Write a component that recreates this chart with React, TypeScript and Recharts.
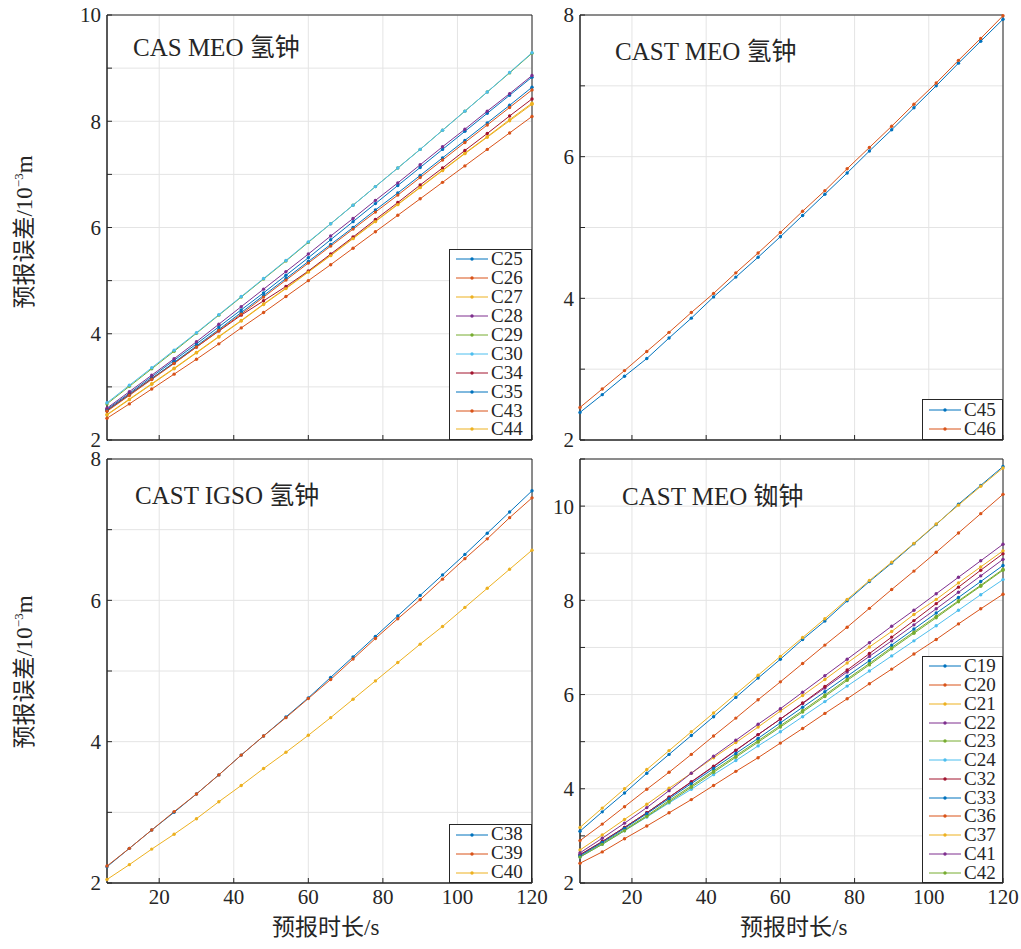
import React from "react";
import {
  LineChart,
  Line,
  XAxis,
  YAxis,
  CartesianGrid,
  Legend,
  ReferenceArea,
} from "recharts";

// forecast horizon (s), one point every 6 s
const times = [6, 12, 18, 24, 30, 36, 42, 48, 54, 60, 66, 72, 78, 84, 90, 96, 102, 108, 114, 120];
const xTicks = [20, 40, 60, 80, 100, 120];

// CAS MEO 氢钟
const c25 = [2.58, 2.88, 3.19, 3.5, 3.81, 4.13, 4.45, 4.77, 5.1, 5.43, 5.77, 6.11, 6.45, 6.79, 7.13, 7.47, 7.81, 8.15, 8.49, 8.83];
const c26 = [2.41, 2.68, 2.96, 3.24, 3.52, 3.81, 4.11, 4.4, 4.7, 5.0, 5.3, 5.61, 5.92, 6.23, 6.54, 6.85, 7.16, 7.47, 7.78, 8.09];
const c27 = [2.48, 2.77, 3.06, 3.35, 3.65, 3.95, 4.25, 4.56, 4.86, 5.17, 5.48, 5.8, 6.12, 6.44, 6.76, 7.08, 7.4, 7.71, 8.03, 8.34];
const c28 = [2.6, 2.91, 3.22, 3.53, 3.85, 4.18, 4.51, 4.84, 5.17, 5.5, 5.84, 6.17, 6.51, 6.84, 7.18, 7.52, 7.85, 8.19, 8.52, 8.86];
const c29 = [2.68, 3.01, 3.34, 3.67, 4.01, 4.35, 4.69, 5.03, 5.37, 5.72, 6.07, 6.42, 6.77, 7.12, 7.47, 7.83, 8.19, 8.55, 8.91, 9.28];
const c30 = [2.7, 3.03, 3.36, 3.69, 4.02, 4.36, 4.7, 5.04, 5.38, 5.73, 6.07, 6.42, 6.77, 7.12, 7.47, 7.83, 8.19, 8.55, 8.92, 9.29];
const c34 = [2.56, 2.86, 3.16, 3.45, 3.75, 4.05, 4.35, 4.62, 4.89, 5.18, 5.5, 5.82, 6.15, 6.47, 6.8, 7.12, 7.45, 7.77, 8.1, 8.42];
const c35 = [2.55, 2.85, 3.15, 3.46, 3.77, 4.08, 4.4, 4.72, 5.04, 5.36, 5.68, 6.0, 6.33, 6.65, 6.98, 7.31, 7.64, 7.97, 8.3, 8.64];
const c43 = [2.54, 2.84, 3.14, 3.44, 3.75, 4.06, 4.37, 4.69, 5.01, 5.33, 5.65, 5.97, 6.29, 6.61, 6.94, 7.27, 7.6, 7.93, 8.26, 8.59];
const c44 = [2.47, 2.76, 3.05, 3.34, 3.64, 3.94, 4.24, 4.55, 4.85, 5.16, 5.47, 5.79, 6.11, 6.43, 6.75, 7.07, 7.39, 7.7, 8.01, 8.32];

// CAST MEO 氢钟
const c45 = [2.39, 2.64, 2.9, 3.15, 3.44, 3.72, 4.02, 4.3, 4.58, 4.87, 5.17, 5.47, 5.77, 6.08, 6.38, 6.69, 7.0, 7.32, 7.63, 7.94];
const c46 = [2.46, 2.72, 2.98, 3.25, 3.52, 3.8, 4.07, 4.36, 4.64, 4.93, 5.23, 5.52, 5.83, 6.13, 6.43, 6.74, 7.04, 7.36, 7.67, 7.99];

// CAST IGSO 氢钟
const c38 = [2.23, 2.49, 2.75, 3.0, 3.26, 3.53, 3.81, 4.08, 4.35, 4.62, 4.91, 5.2, 5.49, 5.78, 6.07, 6.36, 6.65, 6.95, 7.25, 7.55];
const c39 = [2.24, 2.49, 2.75, 3.01, 3.26, 3.53, 3.81, 4.08, 4.34, 4.61, 4.88, 5.17, 5.46, 5.74, 6.01, 6.3, 6.59, 6.87, 7.17, 7.45];
const c40 = [2.05, 2.26, 2.48, 2.69, 2.91, 3.15, 3.38, 3.62, 3.85, 4.09, 4.34, 4.6, 4.86, 5.12, 5.38, 5.63, 5.9, 6.17, 6.44, 6.71];

// CAST MEO 铷钟
const c19 = [3.1, 3.51, 3.91, 4.33, 4.73, 5.13, 5.53, 5.94, 6.35, 6.75, 7.17, 7.56, 7.99, 8.4, 8.79, 9.2, 9.61, 10.04, 10.44, 10.84];
const c20 = [2.9, 3.25, 3.62, 3.99, 4.35, 4.73, 5.12, 5.5, 5.89, 6.27, 6.66, 7.05, 7.43, 7.83, 8.23, 8.62, 9.02, 9.43, 9.84, 10.25];
const c21 = [3.18, 3.59, 4.0, 4.41, 4.81, 5.21, 5.61, 6.01, 6.41, 6.81, 7.21, 7.61, 8.02, 8.42, 8.81, 9.21, 9.62, 10.02, 10.42, 10.81];
const c22 = [2.6, 2.88, 3.18, 3.49, 3.82, 4.14, 4.47, 4.81, 5.15, 5.48, 5.81, 6.14, 6.48, 6.81, 7.14, 7.48, 7.82, 8.17, 8.52, 8.87];
const c23 = [2.56, 2.84, 3.13, 3.43, 3.75, 4.06, 4.38, 4.7, 5.02, 5.34, 5.66, 5.99, 6.33, 6.66, 7.0, 7.33, 7.66, 7.99, 8.32, 8.66];
const c24 = [2.55, 2.82, 3.11, 3.4, 3.7, 3.99, 4.3, 4.6, 4.91, 5.21, 5.53, 5.85, 6.18, 6.5, 6.82, 7.14, 7.46, 7.79, 8.12, 8.44];
const c32 = [2.6, 2.88, 3.18, 3.49, 3.82, 4.15, 4.48, 4.82, 5.15, 5.48, 5.82, 6.17, 6.52, 6.87, 7.22, 7.57, 7.93, 8.28, 8.64, 8.99];
const c33 = [2.58, 2.86, 3.16, 3.47, 3.79, 4.11, 4.43, 4.75, 5.07, 5.4, 5.73, 6.06, 6.39, 6.72, 7.05, 7.39, 7.73, 8.06, 8.4, 8.74];
const c36 = [2.42, 2.66, 2.94, 3.21, 3.49, 3.77, 4.07, 4.37, 4.66, 4.97, 5.28, 5.6, 5.91, 6.23, 6.54, 6.86, 7.17, 7.5, 7.82, 8.13];
const c37 = [2.7, 3.02, 3.35, 3.67, 4.01, 4.33, 4.66, 4.98, 5.31, 5.65, 5.98, 6.32, 6.67, 7.01, 7.34, 7.7, 8.02, 8.37, 8.71, 9.05];
const c41 = [2.64, 2.95, 3.27, 3.6, 3.96, 4.33, 4.69, 5.03, 5.37, 5.7, 6.05, 6.4, 6.75, 7.1, 7.45, 7.79, 8.14, 8.49, 8.84, 9.19];
const c42 = [2.55, 2.82, 3.11, 3.41, 3.72, 4.03, 4.35, 4.67, 4.99, 5.31, 5.63, 5.96, 6.3, 6.63, 6.97, 7.3, 7.63, 7.97, 8.3, 8.64];

const yTicks8 = [2, 3, 4, 5, 6, 7, 8];
const yTicks10 = [2, 3, 4, 5, 6, 7, 8, 9, 10];
const yTicks11 = [2, 3, 4, 5, 6, 7, 8, 9, 10, 11];

// matlab default color order
const palette = ["#0072BD", "#D95319", "#EDB120", "#7E2F8E", "#77AC30", "#4DBEEE", "#A2142F"];

const serif = '"Liberation Serif", "Noto Sans CJK SC", serif';
const ink = "#262626";

type Box = { left: number; top: number; width: number; height: number };

type PanelDef = {
  title: string;
  names: string[];
  values: number[][];
  yTicks: number[];
  plot: Box;
  legend: Box;
  titlePos: { left: number; top: number };
  showX: boolean;
};

const panels: PanelDef[] = [
  {
    title: "CAS MEO 氢钟",
    names: ["C25", "C26", "C27", "C28", "C29", "C30", "C34", "C35", "C43", "C44"],
    values: [c25, c26, c27, c28, c29, c30, c34, c35, c43, c44],
    yTicks: yTicks10,
    plot: { left: 107, top: 15, width: 425, height: 425 },
    legend: { left: 449, top: 249, width: 83, height: 191 },
    titlePos: { left: 133, top: 35 },
    showX: false,
  },
  {
    title: "CAST MEO 氢钟",
    names: ["C45", "C46"],
    values: [c45, c46],
    yTicks: yTicks8,
    plot: { left: 580, top: 15, width: 423, height: 425 },
    legend: { left: 922, top: 399, width: 81, height: 41 },
    titlePos: { left: 615, top: 39 },
    showX: false,
  },
  {
    title: "CAST IGSO 氢钟",
    names: ["C38", "C39", "C40"],
    values: [c38, c39, c40],
    yTicks: yTicks8,
    plot: { left: 107, top: 459, width: 425, height: 424 },
    legend: { left: 449, top: 824, width: 83, height: 59 },
    titlePos: { left: 135, top: 483 },
    showX: true,
  },
  {
    title: "CAST MEO 铷钟",
    names: ["C19", "C20", "C21", "C22", "C23", "C24", "C32", "C33", "C36", "C37", "C41", "C42"],
    values: [c19, c20, c21, c22, c23, c24, c32, c33, c36, c37, c41, c42],
    yTicks: yTicks11,
    plot: { left: 580, top: 459, width: 423, height: 424 },
    legend: { left: 922, top: 656, width: 81, height: 227 },
    titlePos: { left: 622, top: 484 },
    showX: true,
  },
];

const ML = 70;
const MT = 15;
const MR = 17;
const XH = 40;

function LegendBox({ payload, box }: { payload?: any[]; box: Box }) {
  const items = payload || [];
  const rowH = (box.height - 2) / Math.max(items.length, 1);
  return (
    <div
      style={{
        width: box.width,
        height: box.height,
        boxSizing: "border-box",
        border: `1px solid ${ink}`,
        background: "#fff",
        fontFamily: serif,
        fontSize: 19,
        color: ink,
      }}
    >
      {items.map((it) => (
        <div key={it.value} style={{ display: "flex", alignItems: "center", height: rowH }}>
          <svg width={41} height={10} style={{ flex: "none" }}>
            <line x1={6} x2={38} y1={5} y2={5} stroke={it.color} strokeWidth={1} />
            <circle cx={22} cy={5} r={1.7} fill={it.color} />
          </svg>
          <span style={{ lineHeight: 0.85 }}>{it.value}</span>
        </div>
      ))}
    </div>
  );
}

function Panel({ p }: { p: PanelDef }) {
  const data = times.map((t, i) => {
    const row: Record<string, number> = { t };
    p.names.forEach((n, k) => {
      row[n] = p.values[k][i];
    });
    return row;
  });
  const yMin = p.yTicks[0];
  const yMax = p.yTicks[p.yTicks.length - 1];
  const chartLeft = p.plot.left - ML;
  const chartTop = p.plot.top - MT;
  const legendBox = {
    left: p.legend.left - chartLeft,
    top: p.legend.top - chartTop,
    width: p.legend.width,
    height: p.legend.height,
  };
  const tickStyle = { fill: ink, fontSize: 21, fontFamily: serif };

  return (
    <div style={{ position: "absolute", left: chartLeft, top: chartTop }}>
      <LineChart
        width={p.plot.width + ML + MR}
        height={p.plot.height + MT + XH}
        data={data}
        margin={{ top: MT, right: MR, bottom: 0, left: 0 }}
      >
        <CartesianGrid stroke="#e4e4e4" strokeWidth={1} />
        <XAxis
          dataKey="t"
          type="number"
          domain={[6, 120]}
          ticks={xTicks}
          interval={0}
          height={XH}
          axisLine={{ stroke: ink }}
          tickLine={{ stroke: ink }}
          tickSize={-5}
          tickMargin={11}
          tick={tickStyle}
          tickFormatter={(v) => (p.showX ? String(v) : "")}
        />
        <YAxis
          type="number"
          domain={[yMin, yMax]}
          ticks={p.yTicks}
          interval={0}
          width={ML}
          axisLine={{ stroke: ink }}
          tickLine={{ stroke: ink }}
          tickSize={-5}
          tickMargin={11}
          tick={tickStyle}
          tickFormatter={(v) => (Number(v) % 2 === 0 ? String(v) : "")}
        />
        <ReferenceArea x1={6} x2={120} y1={yMin} y2={yMax} fill="none" stroke={ink} strokeWidth={1} />
        {p.names.map((n, k) => {
          const color = palette[k % palette.length];
          return (
            <Line
              key={n}
              dataKey={n}
              name={n}
              type="linear"
              stroke={color}
              strokeWidth={1}
              dot={{ r: 1.7, fill: color, stroke: color, strokeWidth: 0 }}
              activeDot={false}
              isAnimationActive={false}
            />
          );
        })}
        <Legend
          layout="horizontal"
          verticalAlign="middle"
          align="center"
          wrapperStyle={{
            position: "absolute",
            left: legendBox.left,
            top: legendBox.top,
            width: legendBox.width,
            height: legendBox.height,
          }}
          content={(props: any) => <LegendBox payload={props.payload} box={legendBox} />}
        />
      </LineChart>
    </div>
  );
}

const textBase: React.CSSProperties = {
  position: "absolute",
  fontFamily: serif,
  color: ink,
  whiteSpace: "nowrap",
  lineHeight: 1,
};

function YLabel({ cx, cy }: { cx: number; cy: number }) {
  return (
    <div
      style={{
        ...textBase,
        left: cx,
        top: cy,
        fontSize: 23,
        transform: "translate(-50%, -50%) rotate(-90deg)",
      }}
    >
      预报误差/10<sup style={{ fontSize: 13 }}>−3</sup>m
    </div>
  );
}

export default function App() {
  return (
    <div style={{ position: "absolute", left: 0, top: 0, width: 1021, height: 949, background: "#fff" }}>
      {panels.map((p) => (
        <Panel key={p.title} p={p} />
      ))}
      {panels.map((p) => (
        <div key={p.title + "-t"} style={{ ...textBase, left: p.titlePos.left, top: p.titlePos.top, fontSize: 25 }}>
          {p.title}
        </div>
      ))}
      <YLabel cx={24} cy={232} />
      <YLabel cx={24} cy={672} />
      <div style={{ ...textBase, left: 272, top: 916, fontSize: 23 }}>预报时长/s</div>
      <div style={{ ...textBase, left: 740, top: 916, fontSize: 23 }}>预报时长/s</div>
    </div>
  );
}
